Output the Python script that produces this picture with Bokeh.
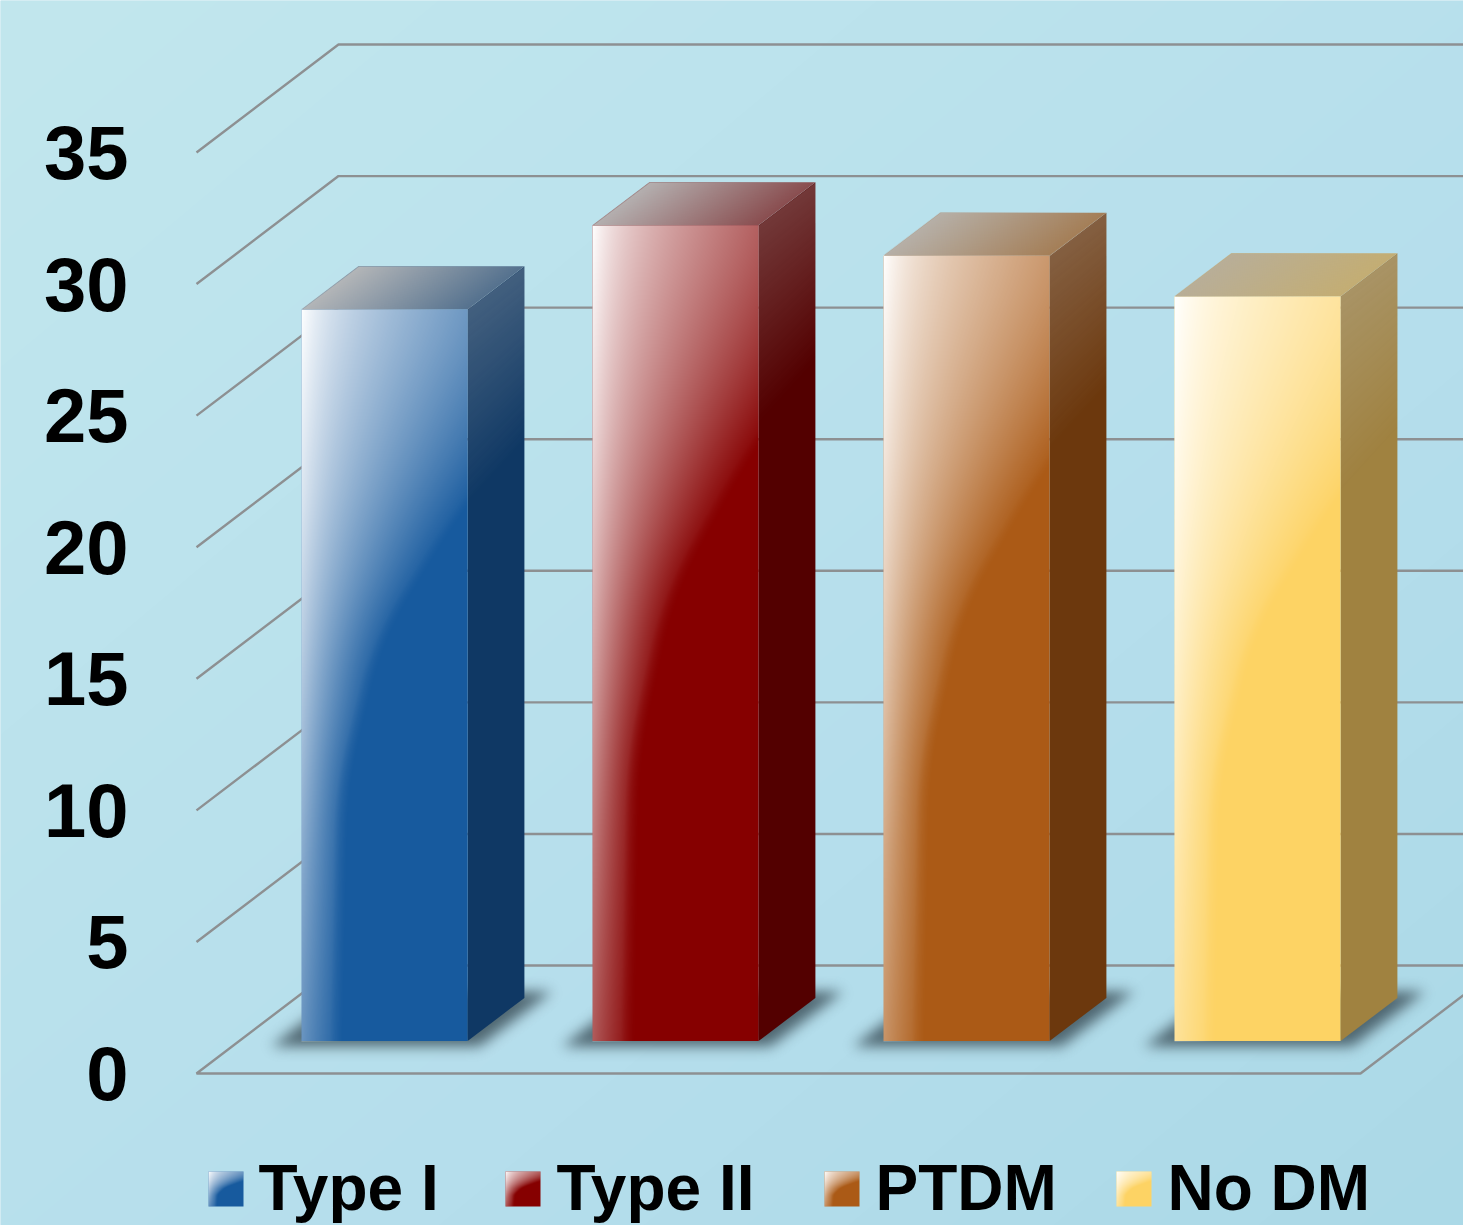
import numpy as np
from bokeh.core.properties import value
from bokeh.embed import file_html
from bokeh.models import ColumnDataSource, FixedTicker, Range1d
from bokeh.plotting import figure
from bokeh.resources import INLINE

# Chart data
categories = ["Type I", "Type II", "PTDM", "No DM"]
values = [27.8, 31.0, 29.84, 28.3]
y_ticks = [0, 5, 10, 15, 20, 25, 30, 35]

# Series colours
front_colors = ["#175a9e", "#860000", "#ab5a16", "#fdd364"]
side_colors = ["#0f3864", "#530000", "#6c380d", "#a08240"]
top_right_colors = ["#55728f", "#8a4e50", "#a57f58", "#c4ae74"]
top_left_colors = [(180, 182, 184), (180, 176, 176), (182, 176, 168), (184, 174, 152)]

WIDTH, HEIGHT = 1463, 1225
# Axis scales: one category slot and one value unit in screen pixels
SLOT_PX, UNIT_PX = 291.0, 26.314
ORIGIN_X, ORIGIN_Y = 196.0, 1073.0
# Oblique projection of the box: full depth of the floor, in axis units
DEPTH_X, DEPTH_Y = 142.0 / SLOT_PX, 108.0 / UNIT_PX
BAR_W = 166.0 / SLOT_PX
BAR_FRONT, BAR_BACK = 0.30, 0.70


def sx(u):
    return ORIGIN_X + SLOT_PX * u


def sy(v):
    return ORIGIN_Y - UNIT_PX * v


def ux(px):
    return (px - ORIGIN_X) / SLOT_PX


def uy(py):
    return (ORIGIN_Y - py) / UNIT_PX


p = figure(
    width=WIDTH, height=HEIGHT, output_backend="svg", toolbar_location=None,
    x_range=Range1d(ux(0), ux(WIDTH)), y_range=Range1d(uy(HEIGHT), uy(0)),
    min_border=0, outline_line_color=None,
)
p.xaxis.visible = False
p.grid.visible = False
p.background_fill_color = "#b9e1ed"
p.border_fill_color = "#b9e1ed"


def overlay(px_left, px_top, rgb, alpha):
    """Place an RGB + alpha pixel array on the chart, top row first."""
    h, w = alpha.shape
    img = np.zeros((h, w), dtype=np.uint32)
    view = img.view(np.uint8).reshape(h, w, 4)
    a = np.clip(alpha, 0, 1)[::-1]
    rgb_arr = np.asarray(rgb, dtype=float)
    if rgb_arr.ndim == 1:
        rgb_arr = np.broadcast_to(rgb_arr, (h, w, 3))
    else:
        rgb_arr = rgb_arr[::-1]
    view[..., :3] = np.clip(rgb_arr, 0, 255).astype(np.uint8)
    view[..., 3] = (a * 255).astype(np.uint8)
    p.image_rgba(image=[img], x=[ux(px_left)], y=[uy(px_top + h)],
                 dw=[w / SLOT_PX], dh=[h / UNIT_PX])


def grid_px(left, top, w, h):
    return np.meshgrid(np.arange(w) + 0.5 + left, np.arange(h) + 0.5 + top)


def highlight(w, h):
    """Glossy white sheen of a front face: strong top-left, curved lower limit."""
    xx, tt = np.meshgrid((np.arange(w) + 0.5) / w, (np.arange(h) + 0.5) / h)
    knots = np.linspace(0, 1, 200)
    limit = np.interp(knots, [0, 0.27, 0.45, 0.65, 1], [2.0, 1.02, 0.52, 0.30, 0.27])
    strength = np.interp(knots, [0, 0.25, 0.5, 0.75, 1], [1.0, 0.86, 0.68, 0.5, 0.36])
    kernel = np.ones(25) / 25
    limit = np.convolve(np.pad(limit, 12, mode="edge"), kernel, mode="valid")
    x_limit = np.interp(tt, knots, limit)
    a_start = np.interp(tt, knots, strength)
    body = 0.84 * np.clip(1 - xx / x_limit, 0, 1) ** 1.1 + 0.16 * np.exp(-xx / 0.16)
    return a_start * body * np.clip((x_limit - xx) / 0.1, 0, 1)


def gaussian_blur(a, sigma):
    r = int(3 * sigma)
    k = np.exp(-0.5 * (np.arange(-r, r + 1) / sigma) ** 2)
    k /= k.sum()
    a = np.apply_along_axis(lambda m: np.convolve(m, k, mode="same"), 0, a)
    return np.apply_along_axis(lambda m: np.convolve(m, k, mode="same"), 1, a)


# Backdrop: pale diagonal blue wash
bx, by = grid_px(0, 0, WIDTH, HEIGHT)
wash = (bx / WIDTH + by / HEIGHT) / 2
bg = np.stack([
    np.interp(wash, [0, 0.3, 0.65, 1], c)
    for c in ([194, 188, 181, 171], [231, 227, 222, 217], [238, 237, 236, 231])
], axis=-1)
overlay(0, 0, bg, np.ones((HEIGHT, WIDTH)))

# Wall gridlines: a diagonal up the side wall, then across the back wall
x_far = ux(WIDTH + 20)
wall_x = [[0, DEPTH_X, x_far] for _ in y_ticks[1:]]
wall_y = [[t, t + DEPTH_Y, t + DEPTH_Y] for t in y_ticks[1:]]
p.multi_line(wall_x, wall_y, line_color="#8d9092", line_width=2.4)

# Floor outline
p.multi_line(
    [[x_far, DEPTH_X, 0, 4, 4 + DEPTH_X]],
    [[DEPTH_Y, DEPTH_Y, 0, 0, DEPTH_Y]],
    line_color="#8d9092", line_width=2.4,
)

# Cast shadows on the floor
for i in range(len(values)):
    left = sx(i + 0.5 - BAR_W / 2 + BAR_FRONT * DEPTH_X)
    base = sy(BAR_FRONT * DEPTH_Y)
    box_l, box_t = int(left - 70), int(base - 90)
    box_w, box_h = 370, 130
    gx, gy = grid_px(box_l, box_t, box_w, box_h)
    rise = (base + 5 - gy) * (57.0 / 43.0)
    mask = ((gy < base + 5) & (gy > base - 50)
            & (gx > left - 30 + rise) & (gx < left + 178 + rise)).astype(float)
    overlay(box_l, box_t, (70, 92, 102), gaussian_blur(mask, 6.5) * 0.92)

# Bars: side face, top face and front face of each box
xs = np.arange(len(values)) + 0.5 - BAR_W / 2
vals = np.array(values, dtype=float)
d0x, d1x = BAR_FRONT * DEPTH_X, BAR_BACK * DEPTH_X
d0y, d1y = BAR_FRONT * DEPTH_Y, BAR_BACK * DEPTH_Y

side_x = [[x + BAR_W + d0x, x + BAR_W + d1x, x + BAR_W + d1x, x + BAR_W + d0x] for x in xs]
side_y = [[d0y, d1y, v + d1y, v + d0y] for v in vals]
p.patches(side_x, side_y, fill_color=side_colors, line_color=None)

top_x = [[x + d0x, x + d1x, x + BAR_W + d1x, x + BAR_W + d0x] for x in xs]
top_y = [[v + d0y, v + d1y, v + d1y, v + d0y] for v in vals]
p.patches(top_x, top_y, fill_color=top_right_colors, line_color=None)

front = ColumnDataSource(dict(
    left=xs + d0x, right=xs + BAR_W + d0x,
    bottom=np.full(len(xs), d0y), top=vals + d0y,
    color=front_colors, category=categories,
))
p.quad(left="left", right="right", bottom="bottom", top="top",
       fill_color="color", line_color=None, source=front)

slant = 57.0 / 43.0
for i, v in enumerate(vals):
    fl = int(round(sx(xs[i] + d0x)))
    fw = int(round(BAR_W * SLOT_PX))
    ft = int(round(sy(v + d0y)))
    fb = int(round(sy(d0y)))
    fh = fb - ft

    # Sheen on the front face
    overlay(fl, ft, (255, 255, 255), highlight(fw, fh))

    # Grey sheen fading down the side face
    sw, sd = 57, 43
    sh = fh + sd
    gx, gy = grid_px(fl + fw, ft - sd, sw, sh)
    along = gx - (fl + fw)
    upper = ft - along / slant
    cover = np.clip(gy - upper + 0.5, 0, 1)
    fade = np.clip(1 - (gy - upper) / (200 - 0.35 * along), 0, 1)
    overlay(fl + fw, ft - sd, (190, 190, 190), 0.30 * fade * cover)

    # Grey wash across the top face, strongest at the left
    gx, gy = grid_px(fl, ft - sd, fw + sw, sd)
    row_left = fl + (ft - gy) * slant
    s = (gx - row_left) / fw
    cover = np.clip(gx - row_left + 0.5, 0, 1) * np.clip(row_left + fw - gx + 0.5, 0, 1)
    overlay(fl, ft - sd, top_left_colors[i], np.clip(1 - s, 0, 1) * cover)

# Value axis, pinned to the left of the floor
p.yaxis.fixed_location = ux(128)
p.yaxis.ticker = FixedTicker(ticks=y_ticks)
p.yaxis.axis_line_color = None
p.yaxis.major_tick_line_color = None
p.yaxis.minor_tick_line_color = None
p.yaxis.major_tick_out = 0
p.yaxis.major_tick_in = 0
p.yaxis.major_label_standoff = 0
p.yaxis.major_label_text_font = "Liberation Sans"
p.yaxis.major_label_text_font_style = "bold"
p.yaxis.major_label_text_font_size = "76px"
p.yaxis.major_label_text_color = "#000000"

# Legend row: gradient swatches with bold labels
swatch_px = [208, 505, 824, 1116]
label_px = [258, 556, 875, 1167]
for i, name in enumerate(categories):
    size = 35
    hex_c = front_colors[i]
    p.quad(left=[ux(swatch_px[i])], right=[ux(swatch_px[i] + size)],
           top=[uy(1171)], bottom=[uy(1171 + size)],
           fill_color=hex_c, line_color=None)
    overlay(swatch_px[i], 1171, (255, 255, 255), highlight(size, size))
p.text(
    x=[ux(x) for x in label_px], y=[uy(1187)] * 4, text=categories,
    text_font=value("Liberation Sans"), text_font_style="bold",
    text_font_size="64px", text_color="#000000",
    text_align="left", text_baseline="middle",
)

open("out.html", "w").write(file_html(p, INLINE))
